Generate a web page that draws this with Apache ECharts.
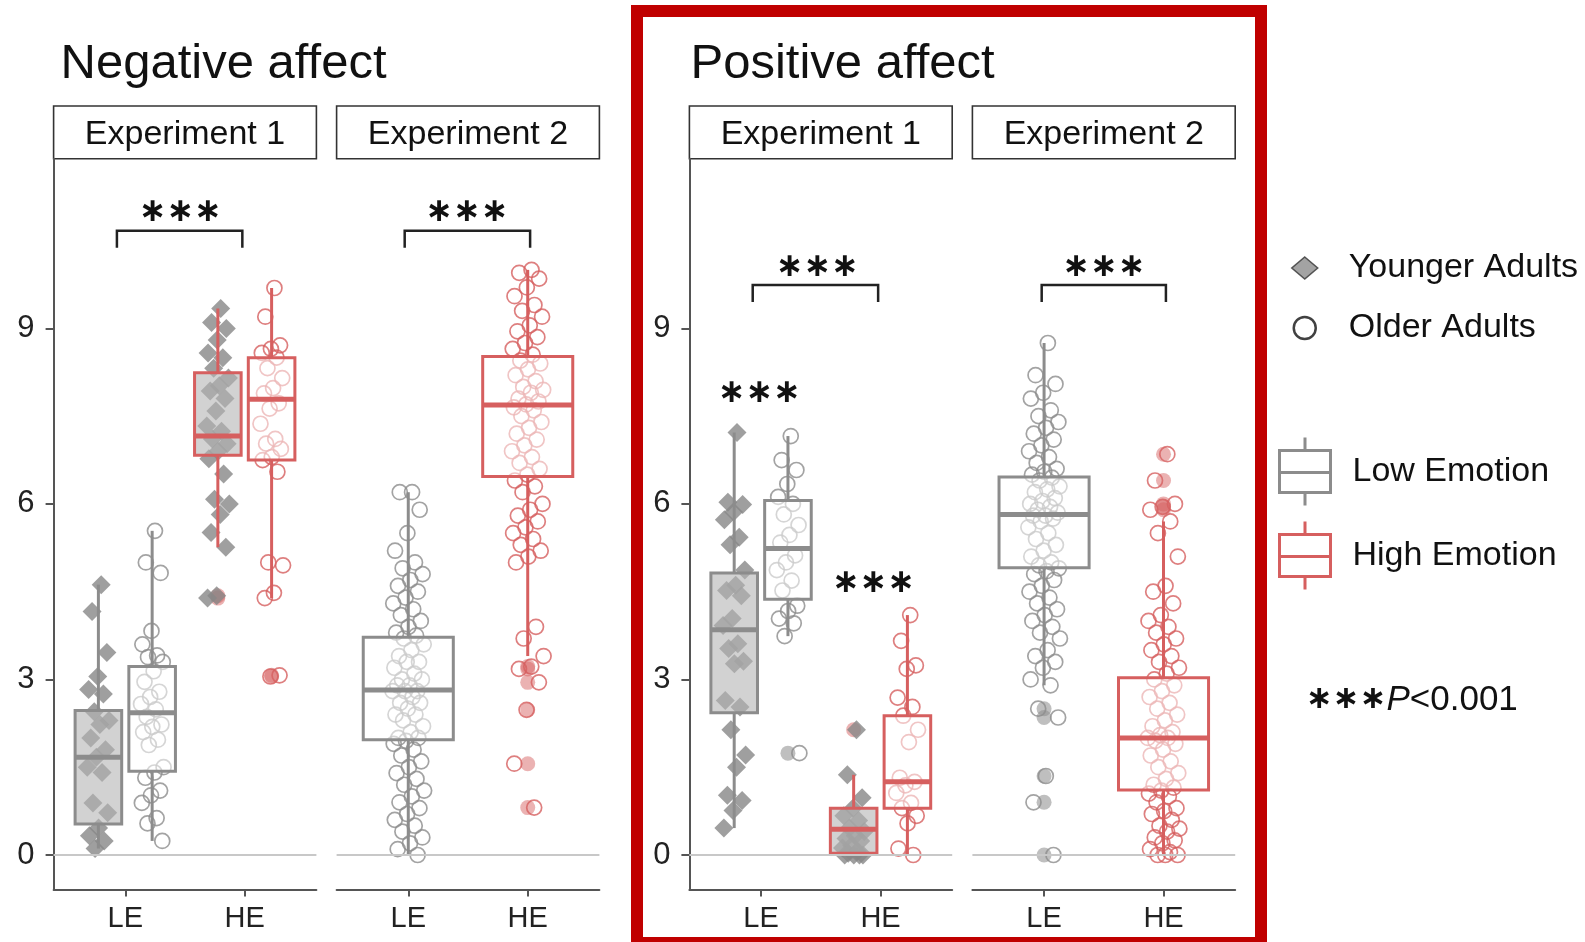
<!DOCTYPE html>
<html>
<head>
<meta charset="utf-8">
<title>Negative and positive affect</title>
<script src="https://cdn.jsdelivr.net/npm/echarts@6/dist/echarts.min.js"></script>
<style>
  html, body { margin: 0; padding: 0; background: #fff; }
  #chart { width: 1585px; height: 942px; }
</style>
</head>
<body>
<div id="chart"></div>
<script>
// ---- data ----
const xLabels = ['LE', 'HE'];
const yTicks = [0, 3, 6, 9];
const titles = ['Negative affect', 'Positive affect'];
const stripLabels = ['Experiment 1', 'Experiment 2', 'Experiment 1', 'Experiment 2'];

// Negative affect, experiment 1
const negE1YoungLE = [4.62, 4.16, 3.46, 3.05, 2.83, 2.75, 2.45, 2.3, 2.23, 2.0, 1.8, 1.67, 1.5, 1.41, 0.89, 0.72, 0.46, 0.33, 0.24, 0.11];
const negE1OldLE = [5.54, 5.0, 4.82, 3.83, 3.6, 3.41, 3.38, 3.3, 3.14, 2.96, 2.79, 2.7, 2.58, 2.49, 2.36, 2.23, 2.19, 2.1, 1.97, 1.88, 1.5, 1.41, 1.32, 1.1, 1.02, 0.89, 0.63, 0.54, 0.24];
const negE1YoungHE = [9.34, 9.1, 9.0, 8.8, 8.58, 8.5, 8.32, 8.15, 8.02, 7.93, 7.8, 7.59, 7.33, 7.24, 7.11, 7.03, 6.9, 6.77, 6.51, 6.08, 6.0, 5.82, 5.51, 5.26, 4.43, 4.39];
const negE1OldHE = [9.69, 9.2, 8.71, 8.65, 8.58, 8.5, 8.32, 8.15, 7.98, 7.89, 7.72, 7.63, 7.37, 7.11, 7.03, 6.94, 6.8, 6.75, 6.55, 5.0, 4.95, 4.48, 4.39, 3.07, 3.05];
// Negative affect, experiment 2 (older adults only)
const negE2OldLE = [6.2, 6.2, 5.9, 5.5, 5.2, 5.0, 4.9, 4.8, 4.7, 4.6, 4.5, 4.4, 4.3, 4.2, 4.1, 4.0, 3.9, 3.8, 3.75, 3.7, 3.6, 3.5, 3.4, 3.3, 3.3, 3.2, 3.1, 3.0, 3.0, 2.9, 2.9, 2.8, 2.8, 2.8, 2.7, 2.6, 2.6, 2.5, 2.4, 2.4, 2.3, 2.2, 2.1, 2.0, 2.0, 1.95, 1.9, 1.8, 1.7, 1.6, 1.5, 1.4, 1.3, 1.2, 1.1, 1.0, 0.9, 0.8, 0.7, 0.6, 0.5, 0.4, 0.3, 0.2, 0.1, 0.0];
const negE2OldHE = [10.0, 9.95, 9.85, 9.7, 9.55, 9.4, 9.3, 9.2, 9.05, 8.95, 8.85, 8.75, 8.65, 8.55, 8.45, 8.4, 8.3, 8.2, 8.1, 8.0, 7.95, 7.9, 7.8, 7.75, 7.7, 7.65, 7.6, 7.5, 7.4, 7.3, 7.2, 7.1, 7.0, 6.9, 6.8, 6.7, 6.6, 6.5, 6.4, 6.3, 6.2, 6.0, 5.9, 5.8, 5.7, 5.6, 5.5, 5.4, 5.3, 5.2, 5.1, 5.0, 3.9, 3.7, 3.4, 3.22, 3.18, 2.95, 2.48, 1.56, 0.81];
// Positive affect, experiment 1
const posE1YoungLE = [7.22, 6.03, 5.99, 5.86, 5.73, 5.43, 5.3, 4.87, 4.61, 4.52, 4.43, 4.04, 3.92, 3.61, 3.53, 3.31, 3.27, 2.64, 2.53, 2.14, 1.71, 1.5, 1.02, 0.93, 0.76, 0.46];
const posE1OldLE = [7.16, 6.75, 6.58, 6.34, 6.12, 6.0, 5.82, 5.64, 5.47, 5.34, 5.12, 5.0, 4.87, 4.69, 4.52, 4.26, 4.17, 4.04, 3.96, 3.74, 1.74];
const posE1YoungHE = [2.14, 1.37, 0.98, 0.8, 0.67, 0.59, 0.46, 0.4, 0.33, 0.28, 0.24, 0.16, 0.12, 0.07, 0.03, 0.0, 0.0, 0.0, 0.0];
const posE1OldHE = [4.1, 3.66, 3.24, 3.18, 2.69, 2.53, 2.38, 2.14, 1.93, 1.32, 1.25, 1.19, 1.06, 0.89, 0.8, 0.67, 0.54, 0.11, 0.0];
// Positive affect, experiment 2 (older adults only)
const posE2OldLE = [8.75, 8.2, 8.05, 7.9, 7.8, 7.6, 7.5, 7.4, 7.3, 7.2, 7.1, 7.0, 6.9, 6.8, 6.7, 6.6, 6.55, 6.5, 6.45, 6.4, 6.3, 6.25, 6.2, 6.1, 6.05, 6.0, 5.95, 5.9, 5.85, 5.8, 5.8, 5.75, 5.7, 5.6, 5.5, 5.4, 5.3, 5.2, 5.1, 5.0, 4.95, 4.9, 4.85, 4.8, 4.7, 4.6, 4.5, 4.4, 4.3, 4.2, 4.1, 4.0, 3.9, 3.8, 3.7, 3.5, 3.4, 3.3, 3.2, 3.0, 2.9, 2.5, 2.35, 1.35, 0.9, 0.0];
const posE2OldHE = [6.85, 6.4, 6.0, 5.95, 5.9, 5.7, 5.5, 5.1, 4.6, 4.5, 4.3, 4.1, 4.0, 3.9, 3.8, 3.7, 3.6, 3.5, 3.4, 3.3, 3.2, 3.1, 3.0, 2.9, 2.8, 2.7, 2.6, 2.5, 2.4, 2.3, 2.2, 2.1, 2.05, 2.0, 2.0, 1.95, 1.9, 1.8, 1.7, 1.6, 1.5, 1.4, 1.3, 1.2, 1.15, 1.1, 1.05, 1.0, 0.9, 0.8, 0.75, 0.7, 0.6, 0.5, 0.45, 0.4, 0.3, 0.25, 0.2, 0.1, 0.05, 0.0, 0.0, 0.0];

// box stats: [lower whisker, Q1, median, Q3, upper whisker]
const negE1YoungLEBox = [0.11, 0.53, 1.67, 2.47, 4.62];
const negE1OldLEBox = [0.24, 1.43, 2.43, 3.22, 5.54];
const negE1YoungHEBox = [5.26, 6.83, 7.16, 8.24, 9.34];
const negE1OldHEBox = [4.39, 6.75, 7.79, 8.5, 9.69];
const negE2OldLEBox = [0.0, 1.97, 2.82, 3.72, 6.2];
const negE2OldHEBox = [3.4, 6.47, 7.69, 8.52, 10.0];
const posE1YoungLEBox = [0.46, 2.43, 3.85, 4.82, 7.22];
const posE1OldLEBox = [3.74, 4.37, 5.24, 6.06, 7.16];
const posE1YoungHEBox = [0.0, 0.03, 0.44, 0.8, 1.37];
const posE1OldHEBox = [0.0, 0.8, 1.25, 2.38, 4.1];
const posE2OldLEBox = [2.9, 4.91, 5.82, 6.46, 8.75];
const posE2OldHEBox = [0.0, 1.11, 2.0, 3.03, 5.7];

// significance marks: [panel, xFrom, xTo, yBar, yLegEnd] and [panel, x, y]
const sigBrackets = [[0, 0.93, 1.98, 10.67, 10.38], [1, 0.97, 2.02, 10.67, 10.38], [2, 0.93, 1.98, 9.74, 9.45], [3, 0.98, 2.02, 9.74, 9.45]];
const sigStars = [[0, 1.46, 10.98], [1, 1.49, 10.98], [2, 1.47, 10.05], [3, 1.5, 10.05], [2, 0.985, 7.88], [2, 1.94, 4.64]];

const panels = [
  { twoAges: true, groups: [
    { cat: 1, young: true, pts: negE1YoungLE, box: negE1YoungLEBox },
    { cat: 1, young: false, pts: negE1OldLE, box: negE1OldLEBox },
    { cat: 2, young: true, pts: negE1YoungHE, box: negE1YoungHEBox },
    { cat: 2, young: false, pts: negE1OldHE, box: negE1OldHEBox }] },
  { twoAges: false, groups: [
    { cat: 1, young: false, pts: negE2OldLE, box: negE2OldLEBox },
    { cat: 2, young: false, pts: negE2OldHE, box: negE2OldHEBox }] },
  { twoAges: true, groups: [
    { cat: 1, young: true, pts: posE1YoungLE, box: posE1YoungLEBox },
    { cat: 1, young: false, pts: posE1OldLE, box: posE1OldLEBox },
    { cat: 2, young: true, pts: posE1YoungHE, box: posE1YoungHEBox },
    { cat: 2, young: false, pts: posE1OldHE, box: posE1OldHEBox }] },
  { twoAges: false, groups: [
    { cat: 1, young: false, pts: posE2OldLE, box: posE2OldLEBox },
    { cat: 2, young: false, pts: posE2OldHE, box: posE2OldHEBox }] }
];

// ---- layout / style ----
const FONT = 'Liberation Sans';
const GRAY = '#8c8c8c';
const RED = '#d65f5f';
const gridLefts = [53.6, 336.6, 689.4, 972.4];
const gridW = 262.8, gridTop = 158.7, gridH = 730.8;

const chart = echarts.init(document.getElementById('chart'));

// deterministic horizontal jitter (golden-ratio sequence)
const jitter = i => ((i + 1) * 0.6180339887) % 1 - 0.5;

function boxRenderer(stroke, fill, hw) {
  return function (params, api) {
    const cx = api.value(0);
    const lo = api.value(1), q1 = api.value(2), md = api.value(3), q3 = api.value(4), hi = api.value(5);
    const top = api.coord([cx, hi]), bot = api.coord([cx, lo]);
    const a = api.coord([cx - hw, q3]), b = api.coord([cx + hw, q1]);
    const m = api.coord([cx - hw, md]), n = api.coord([cx + hw, md]);
    return {
      type: 'group',
      children: [
        { type: 'line', shape: { x1: top[0], y1: top[1], x2: top[0], y2: a[1] }, style: { stroke, lineWidth: 3 } },
        { type: 'line', shape: { x1: bot[0], y1: b[1], x2: bot[0], y2: bot[1] }, style: { stroke, lineWidth: 3 } },
        { type: 'rect', shape: { x: a[0], y: a[1], width: b[0] - a[0], height: b[1] - a[1] }, style: { fill, stroke, lineWidth: 3 } },
        { type: 'line', shape: { x1: m[0], y1: m[1], x2: n[0], y2: n[1] }, style: { stroke, lineWidth: 5 } }
      ]
    };
  };
}

const series = [];
panels.forEach((p, pi) => {
  // light zero reference line
  series.push({
    type: 'scatter', name: 'zero', xAxisIndex: pi, yAxisIndex: pi, data: [], z: 0, silent: true,
    markLine: { silent: true, symbol: ['none', 'none'], label: { show: false },
      lineStyle: { color: '#c8c8c8', width: 2, type: 'solid' }, data: [{ yAxis: 0 }] }
  });
  p.groups.forEach(g => {
    const cx = g.cat + (p.twoAges ? (g.young ? -0.225 : 0.225) : 0);
    const spread = p.twoAges ? 0.2 : 0.27;
    const hw = p.twoAges ? 0.195 : 0.377;
    const col = g.cat === 1 ? GRAY : RED;
    const lo = g.box[0], hi = g.box[4];
    const outliers = g.pts.filter(v => v < lo - 0.01 || v > hi + 0.01);
    series.push({
      type: 'scatter', name: 'outliers', xAxisIndex: pi, yAxisIndex: pi, z: 1, silent: true,
      symbol: 'circle', symbolSize: 15,
      itemStyle: { color: g.cat === 1 ? 'rgba(140,140,140,0.7)' : 'rgba(214,95,95,0.6)' },
      data: outliers.map(v => [cx, v])
    });
    series.push({
      type: 'scatter', name: g.young ? 'Younger Adults' : 'Older Adults', xAxisIndex: pi, yAxisIndex: pi, z: 2,
      symbol: g.young ? 'diamond' : 'circle', symbolSize: g.young ? 19 : 15,
      itemStyle: g.young ? { color: '#878787' } : { color: 'rgba(255,255,255,0)', borderColor: col, borderWidth: 1.7 },
      data: g.pts.map((v, i) => [cx + jitter(i) * spread, v])
    });
    series.push({
      type: 'custom', name: g.cat === 1 ? 'Low Emotion' : 'High Emotion', xAxisIndex: pi, yAxisIndex: pi, z: 3,
      renderItem: boxRenderer(col, g.young ? 'rgba(180,180,180,0.6)' : 'rgba(255,255,255,0.55)', hw),
      data: [[cx].concat(g.box)]
    });
  });
  series.push({
    type: 'custom', name: 'bracket', xAxisIndex: pi, yAxisIndex: pi, z: 4, silent: true,
    renderItem: (params, api) => {
      const a = api.coord([api.value(0), api.value(3)]);
      const b = api.coord([api.value(1), api.value(2)]);
      return { type: 'polyline', shape: { points: [[a[0], a[1]], [a[0], b[1]], [b[0], b[1]], [b[0], a[1]]] },
        style: { stroke: '#222', lineWidth: 2.5, fill: null } };
    },
    data: sigBrackets.filter(r => r[0] === pi).map(r => r.slice(1))
  });
  series.push({
    type: 'custom', name: 'stars', xAxisIndex: pi, yAxisIndex: pi, z: 4, silent: true,
    renderItem: (params, api) => {
      const c = api.coord([api.value(0), api.value(1)]);
      return { type: 'text', style: { text: '∗∗∗', x: c[0], y: c[1], align: 'center', verticalAlign: 'middle',
        font: 'bold 33px "DejaVu Sans"', fill: '#111' } };
    },
    data: sigStars.filter(r => r[0] === pi).map(r => r.slice(1))
  });
});

const graphic = [];
titles.forEach((t, i) => {
  graphic.push({ type: 'text', x: [60.6, 690.5][i], y: 64,
    style: { text: t, font: '49px "' + FONT + '"', fill: '#111', verticalAlign: 'middle' } });
});
stripLabels.forEach((t, i) => {
  graphic.push({ type: 'rect', shape: { x: gridLefts[i], y: 106, width: gridW, height: 52.7 },
    style: { fill: '#fff', stroke: '#333', lineWidth: 1.6 } });
  graphic.push({ type: 'text', x: gridLefts[i] + gridW / 2, y: 134.5,
    style: { text: t, font: '34px "' + FONT + '"', fill: '#111', align: 'center', verticalAlign: 'middle' } });
});
graphic.push({ type: 'rect', shape: { x: 637, y: 11, width: 624, height: 932 },
  style: { fill: null, stroke: '#c00000', lineWidth: 12 }, z: 100 });
graphic.push({ type: 'text', x: 1306, y: 700, style: {
  text: '{s|∗∗∗}{p|P}{n|<0.001}', verticalAlign: 'middle',
  rich: { s: { font: 'bold 32px "DejaVu Sans"', fill: '#111' },
          p: { font: 'italic 35px "' + FONT + '"', fill: '#111' },
          n: { font: '35px "' + FONT + '"', fill: '#111' } } } });

const boxIcon = 'path://M25.5 0L25.5 13M0 13L51 13L51 55L0 55ZM0 35L51 35M25.5 55L25.5 68';

chart.setOption({
  animation: false,
  backgroundColor: '#fff',
  grid: gridLefts.map(l => ({ left: l, top: gridTop, width: gridW, height: gridH })),
  xAxis: gridLefts.map((l, i) => ({
    type: 'value', gridIndex: i, min: 0.4, max: 2.6,
    axisLine: { onZero: false, lineStyle: { color: '#555', width: 2 } },
    axisTick: { customValues: [1, 2], length: 7, lineStyle: { color: '#555', width: 2 } },
    axisLabel: { customValues: [1, 2], formatter: v => xLabels[Math.round(v) - 1], fontSize: 29, fontFamily: FONT, color: '#222', margin: 15 },
    splitLine: { show: false }
  })),
  yAxis: gridLefts.map((l, i) => ({
    type: 'value', gridIndex: i, min: -0.59, max: 11.9,
    axisLine: { show: i % 2 === 0, onZero: false, lineStyle: { color: '#555', width: 2 } },
    axisTick: { show: i % 2 === 0, customValues: yTicks, length: 8, lineStyle: { color: '#555', width: 2 } },
    axisLabel: { show: i % 2 === 0, customValues: yTicks, fontSize: 31, fontFamily: FONT, color: '#222', margin: 19 },
    splitLine: { show: false }
  })),
  legend: [
    { orient: 'vertical', left: 1286, top: 246, itemWidth: 26, itemHeight: 22, itemGap: 26, selectedMode: false,
      textStyle: { fontSize: 34, fontFamily: FONT, color: '#111', padding: [0, 0, 0, 26] },
      data: [
        { name: 'Younger Adults', icon: 'diamond', itemStyle: { color: '#8c8c8c', borderColor: '#333', borderWidth: 1.5 } },
        { name: 'Older Adults', icon: 'circle', itemStyle: { color: '#fff', borderColor: '#111', borderWidth: 2.5 } }
      ] },
    { orient: 'vertical', left: 1273, top: 431, itemWidth: 51, itemHeight: 68, itemGap: 13, selectedMode: false,
      textStyle: { fontSize: 34, fontFamily: FONT, color: '#111', padding: [0, 0, 0, 17] },
      data: [
        { name: 'Low Emotion', icon: boxIcon, itemStyle: { color: 'rgba(0,0,0,0)', borderColor: GRAY, borderWidth: 3 } },
        { name: 'High Emotion', icon: boxIcon, itemStyle: { color: 'rgba(0,0,0,0)', borderColor: RED, borderWidth: 3 } }
      ] }
  ],
  graphic,
  series
});
</script>
</body>
</html>
